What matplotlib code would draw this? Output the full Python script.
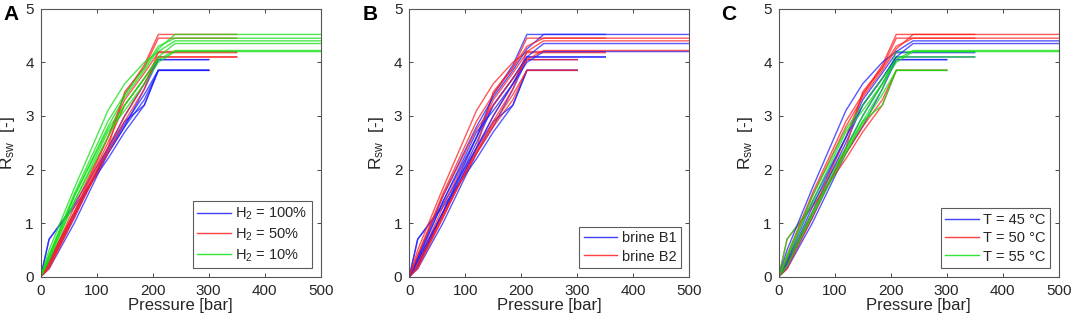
import matplotlib
matplotlib.use("Agg")
import matplotlib.pyplot as plt
from matplotlib.lines import Line2D

plt.rcParams['font.family'] = ['Liberation Sans', 'DejaVu Sans']
plt.rcParams['mathtext.fontset'] = 'custom'
plt.rcParams['mathtext.rm'] = 'Liberation Sans'
plt.rcParams['mathtext.it'] = 'Liberation Sans'

# Pressure grids [bar] per H2 fraction
p_h100 = [0, 15, 60, 120, 150, 185, 210, 300]
p_h50 = [0, 15, 60, 120, 150, 185, 210, 350]
p_h10 = [0, 15, 60, 120, 150, 185, 210, 240, 500]

# Each curve: (H2 %, brine, T degC, Rsw values)
h2_values = [100, 100, 100, 100, 100, 100,
             50, 50, 50, 50, 50, 50,
             10, 10, 10, 10, 10, 10]
brines = ['B1', 'B2', 'B1', 'B2', 'B1', 'B2'] * 3
temps = [45, 45, 50, 50, 55, 55] * 3
rsw = [
    [0, 0.15, 1.00, 2.30, 2.80, 3.50, 4.05, 4.05],
    [0, 0.20, 1.10, 2.40, 3.00, 3.60, 4.05, 4.05],
    [0, 0.70, 1.30, 2.20, 2.70, 3.20, 3.85, 3.85],
    [0, 0.30, 1.20, 2.30, 2.80, 3.30, 3.85, 3.85],
    [0, 0.70, 1.35, 2.40, 2.90, 3.20, 3.85, 3.85],
    [0, 0.25, 1.15, 2.35, 2.85, 3.40, 3.85, 3.85],
    [0, 0.20, 1.20, 2.50, 3.20, 3.70, 4.10, 4.10],
    [0, 0.25, 1.30, 2.60, 3.30, 3.80, 4.18, 4.18],
    [0, 0.20, 1.20, 2.60, 3.40, 3.95, 4.52, 4.52],
    [0, 0.15, 1.10, 2.40, 3.45, 3.90, 4.45, 4.45],
    [0, 0.30, 1.20, 2.40, 3.00, 3.60, 4.10, 4.10],
    [0, 0.20, 1.15, 2.30, 2.90, 3.50, 4.20, 4.20],
    [0, 0.30, 1.40, 2.60, 3.20, 3.70, 4.10, 4.35, 4.35],
    [0, 0.50, 1.65, 3.10, 3.60, 4.00, 4.20, 4.40, 4.40],
    [0, 0.35, 1.50, 2.80, 3.35, 3.85, 4.25, 4.52, 4.52],
    [0, 0.40, 1.55, 2.90, 3.40, 3.90, 4.30, 4.45, 4.45],
    [0, 0.35, 1.40, 2.70, 3.10, 3.60, 4.00, 4.20, 4.20],
    [0, 0.40, 1.50, 2.75, 3.20, 3.70, 4.05, 4.22, 4.22],
]
p_by_h2 = {100: p_h100, 50: p_h50, 10: p_h10}

BLUE, RED, GREEN = '#2020ff', '#ff2020', '#10e010'
h2_colors = {100: BLUE, 50: RED, 10: GREEN}
brine_colors = {'B1': BLUE, 'B2': RED}
temp_colors = {45: BLUE, 50: RED, 55: GREEN}

h2_labels = ['H$_2$ = 100%', 'H$_2$ = 50%', 'H$_2$ = 10%']
brine_labels = ['brine B1', 'brine B2']
temp_labels = ['T = 45 °C', 'T = 50 °C', 'T = 55 °C']

xticks = [0, 100, 200, 300, 400, 500]
yticks = [0, 1, 2, 3, 4, 5]

fig = plt.figure(figsize=(10.72, 3.18), dpi=100)
lefts = [40.7 / 1072, 409.3 / 1072, 778.7 / 1072]
w = 280 / 1072
b = (318 - 276.7) / 318
h = 268 / 318
text_c = '#262626'

panels = [
    ('A', 'h2', h2_colors, [100, 50, 10], h2_labels),
    ('B', 'brine', brine_colors, ['B1', 'B2'], brine_labels),
    ('C', 'temp', temp_colors, [45, 50, 55], temp_labels),
]
label_x = [3 / 1072, 363 / 1072, 721 / 1072]

for i, (letter, key, cmap, keys, labels) in enumerate(panels):
    ax = fig.add_axes([lefts[i], b, w, h])
    for j in range(len(rsw)):
        if key == 'h2':
            c = cmap[h2_values[j]]
        elif key == 'brine':
            c = cmap[brines[j]]
        else:
            c = cmap[temps[j]]
        ax.plot(p_by_h2[h2_values[j]], rsw[j], color=c, lw=1.0, alpha=0.75)
    ax.set_xlim(0, 500)
    ax.set_ylim(0, 5)
    ax.set_xticks(xticks)
    ax.set_yticks(yticks)
    ax.tick_params(direction='in', top=True, right=True, labelsize=11,
                   colors=text_c, length=3, width=0.6, pad=5)
    for s in ax.spines.values():
        s.set_color('#555555')
        s.set_linewidth(0.8)
    ax.set_xlabel('Pressure [bar]', fontsize=12, color=text_c, labelpad=0)
    ax.set_ylabel('R$_{\\mathregular{sw}}$  [-]', fontsize=12.5, color=text_c, labelpad=6)
    handles = [Line2D([0], [0], color=cmap[k], lw=1.0, alpha=0.85) for k in keys]
    leg = ax.legend(handles, labels, loc='lower right', fontsize=10.5,
                    frameon=True, fancybox=False, edgecolor='#333333',
                    borderaxespad=0.6, handlelength=2.3, handletextpad=0.3,
                    labelspacing=0.3, borderpad=0.3)
    leg.get_frame().set_linewidth(0.8)
    for t in leg.get_texts():
        t.set_color(text_c)
    fig.text(label_x[i], 0.985, letter, fontsize=15, fontweight='bold',
             va='top', ha='left', color='black')

fig.savefig('out.png', dpi=100)
